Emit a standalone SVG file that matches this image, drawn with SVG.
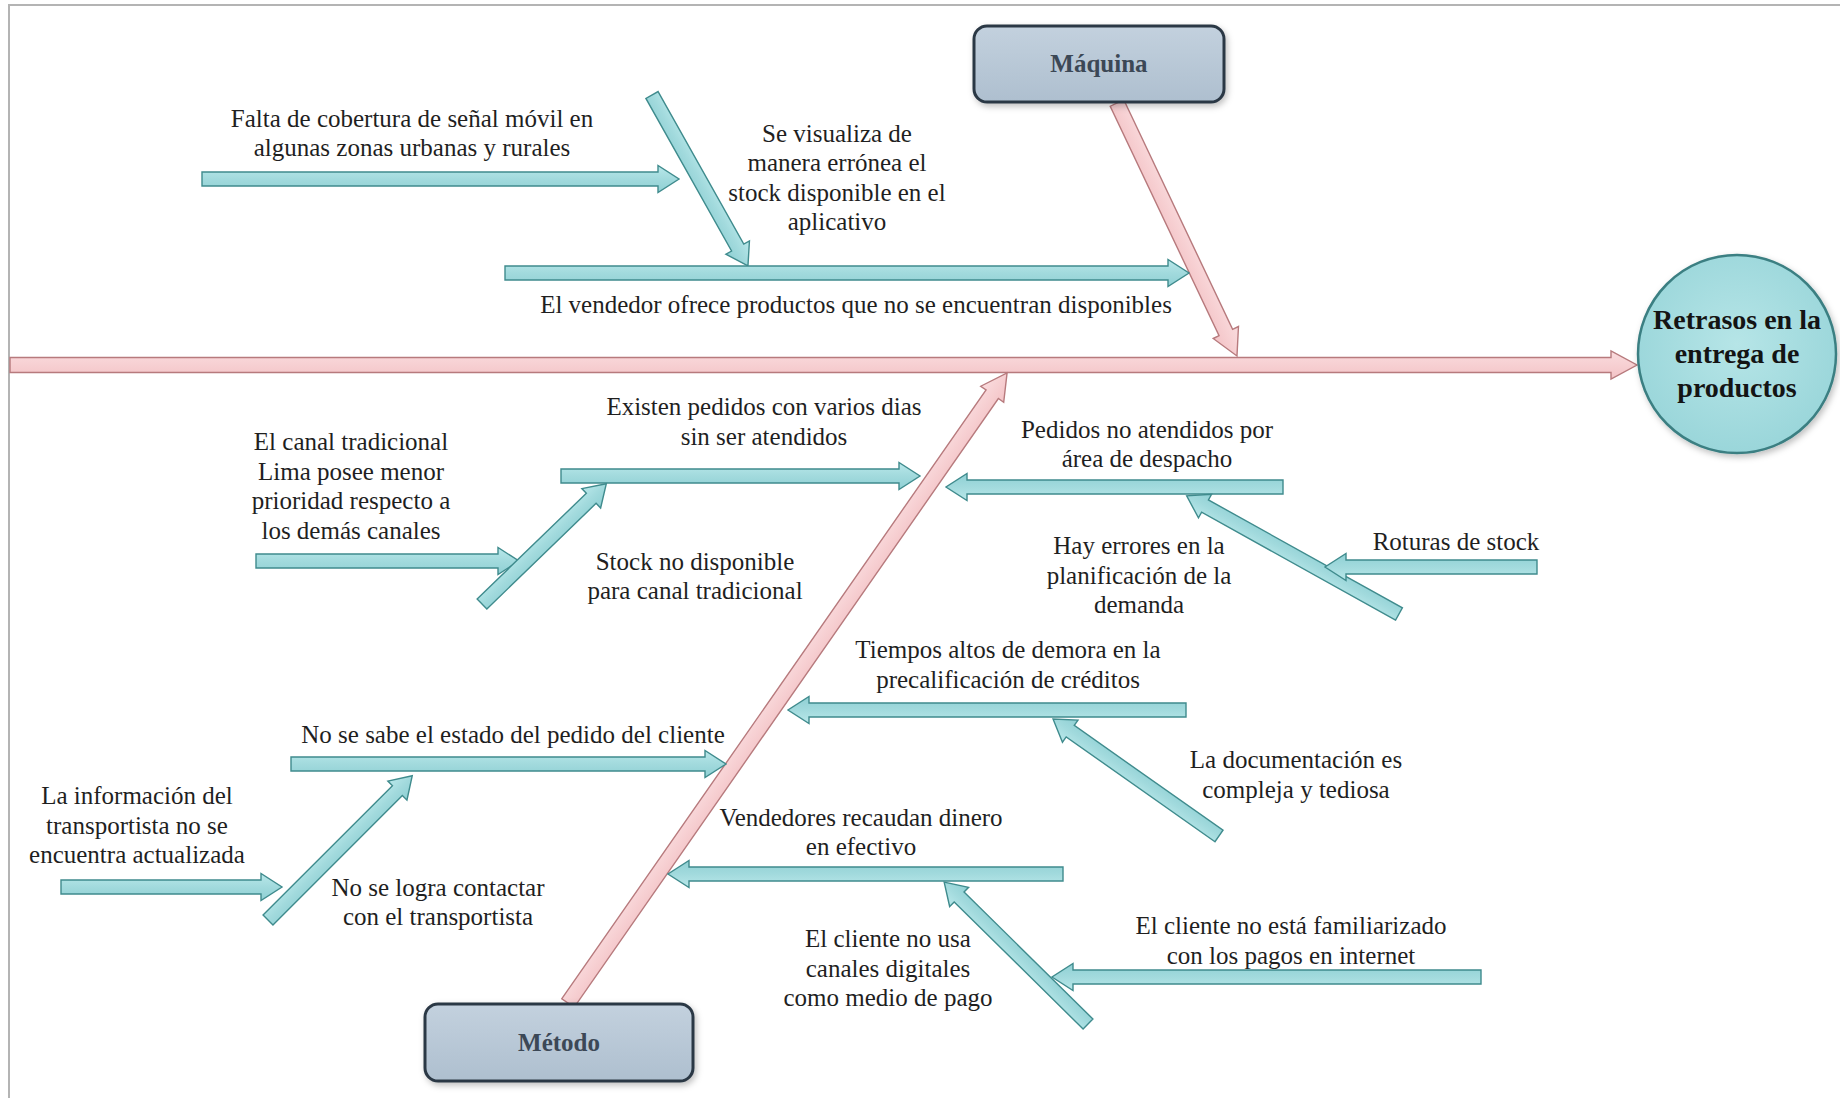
<svg xmlns="http://www.w3.org/2000/svg" width="1840" height="1098" viewBox="0 0 1840 1098">
  <defs>
    <linearGradient id="gBlue" x1="0" y1="0" x2="0" y2="1">
      <stop offset="0" stop-color="#b9e8ea"/>
      <stop offset="0.5" stop-color="#a2dadd"/>
      <stop offset="1" stop-color="#8fd0d4"/>
    </linearGradient>
    <linearGradient id="gPink" x1="0" y1="0" x2="0" y2="1">
      <stop offset="0" stop-color="#fadcde"/>
      <stop offset="1" stop-color="#f3c3c6"/>
    </linearGradient>
    <linearGradient id="gBox" x1="0" y1="0" x2="0" y2="1">
      <stop offset="0" stop-color="#c3d1de"/>
      <stop offset="1" stop-color="#aebfcf"/>
    </linearGradient>
    <radialGradient id="gHead" cx="0.5" cy="0.45" r="0.55">
      <stop offset="0" stop-color="#b6e5e7"/>
      <stop offset="1" stop-color="#9ad6da"/>
    </radialGradient>
    <filter id="shadow" x="-20%" y="-20%" width="140%" height="150%">
      <feDropShadow dx="2" dy="3" stdDeviation="3" flood-color="#000" flood-opacity="0.25"/>
    </filter>
  </defs>
  <style>
    .frame { stroke: #b4b4b4; stroke-width: 2; fill: none; }
    .blue { fill: url(#gBlue); stroke: #3f8b8d; stroke-width: 1.4; stroke-linejoin: miter; }
    .pink { fill: url(#gPink); stroke: #b77a7d; stroke-width: 1.4; stroke-linejoin: miter; }
    .box { fill: url(#gBox); stroke: #2c3845; stroke-width: 3; filter: url(#shadow); }
    .boxlabel { font-family: "Liberation Serif", "Times New Roman", serif; font-size: 25px; font-weight: bold; fill: #3c4856; text-anchor: middle; }
    .head { fill: url(#gHead); stroke: #3b7f82; stroke-width: 2.5; filter: url(#shadow); }
    .headlabel { font-family: "Liberation Serif", "Times New Roman", serif; font-size: 28px; font-weight: bold; fill: #141414; text-anchor: middle; }
    .cause { font-family: "Liberation Serif", "Times New Roman", serif; font-size: 25px; fill: #1f1f1f; text-anchor: middle; }
  </style>

  <!-- page frame -->
  <path class="frame" d="M9,1098 V5 H1840"/>

  <!-- connectors: spine, main bones and cause arrows -->
  <g id="connectors">
    <!-- spine -->
    <path class="pink" transform="translate(10,365)" d="M0,-7.5 H1601 V-14 L1627,0 L1601,14 V7.5 H0 Z"/>
    <!-- Máquina bone -->
    <path class="pink" transform="translate(1117,103) rotate(64.63)" d="M0,-7.5 H254 V-14 L280,0 L254,14 V7.5 H0 Z"/>
    <!-- Método bone -->
    <path class="pink" transform="translate(568,1003) rotate(-55.13)" d="M0,-7.5 H742 V-14 L768,0 L742,14 V7.5 H0 Z"/>

    <!-- upper causes -->
    <path class="blue" transform="translate(202,179)" d="M0,-7 H456 V-13.5 L477,0 L456,13.5 V7 H0 Z"/>
    <path class="blue" transform="translate(652,95) rotate(60.69)" d="M0,-7 H175 V-13.5 L196,0 L175,13.5 V7 H0 Z"/>
    <path class="blue" transform="translate(505,273)" d="M0,-7 H663 V-13.5 L684,0 L663,13.5 V7 H0 Z"/>

    <!-- lower left causes -->
    <path class="blue" transform="translate(561,476)" d="M0,-7 H338 V-13.5 L359,0 L338,13.5 V7 H0 Z"/>
    <path class="blue" transform="translate(256,561)" d="M0,-7 H242 V-13.5 L263,0 L242,13.5 V7 H0 Z"/>
    <path class="blue" transform="translate(482,604) rotate(-44.06)" d="M0,-7 H152 V-13.5 L173,0 L152,13.5 V7 H0 Z"/>
    <path class="blue" transform="translate(291,764)" d="M0,-7 H414 V-13.5 L435,0 L414,13.5 V7 H0 Z"/>
    <path class="blue" transform="translate(61,887)" d="M0,-7 H200 V-13.5 L221,0 L200,13.5 V7 H0 Z"/>
    <path class="blue" transform="translate(268,920) rotate(-45)" d="M0,-7 H183 V-13.5 L204,0 L183,13.5 V7 H0 Z"/>

    <!-- lower right causes -->
    <path class="blue" transform="translate(1283,487) rotate(180)" d="M0,-7 H316 V-13.5 L337,0 L316,13.5 V7 H0 Z"/>
    <path class="blue" transform="translate(1399,614) rotate(-150.9)" d="M0,-7 H222 V-13.5 L243,0 L222,13.5 V7 H0 Z"/>
    <path class="blue" transform="translate(1537,567) rotate(180)" d="M0,-7 H191 V-13.5 L212,0 L191,13.5 V7 H0 Z"/>
    <path class="blue" transform="translate(1186,710) rotate(180)" d="M0,-7 H377 V-13.5 L398,0 L377,13.5 V7 H0 Z"/>
    <path class="blue" transform="translate(1219,836) rotate(-144.83)" d="M0,-7 H182 V-13.5 L203,0 L182,13.5 V7 H0 Z"/>
    <path class="blue" transform="translate(1063,874) rotate(180)" d="M0,-7 H374 V-13.5 L395,0 L374,13.5 V7 H0 Z"/>
    <path class="blue" transform="translate(1088,1024) rotate(-135.4)" d="M0,-7 H181 V-13.5 L202,0 L181,13.5 V7 H0 Z"/>
    <path class="blue" transform="translate(1481,977) rotate(180)" d="M0,-7 H408 V-13.5 L429,0 L408,13.5 V7 H0 Z"/>
  </g>

  <!-- category boxes -->
  <g id="maquina">
    <rect class="box" x="974" y="26" width="250" height="76" rx="13"/>
    <text class="boxlabel" x="1099" y="72">Máquina</text>
  </g>
  <g id="metodo">
    <rect class="box" x="425" y="1004" width="268" height="77" rx="13"/>
    <text class="boxlabel" x="559" y="1051">Método</text>
  </g>

  <!-- effect -->
  <g id="efecto">
    <circle class="head" cx="1737" cy="354" r="99"/>
    <text class="headlabel" x="1737" y="329">Retrasos en la</text>
    <text class="headlabel" x="1737" y="363">entrega de</text>
    <text class="headlabel" x="1737" y="397">productos</text>
  </g>

  <!-- cause labels -->
  <g id="c-cobertura">
    <text class="cause" x="412" y="127">Falta de cobertura de señal móvil en</text>
    <text class="cause" x="412" y="156">algunas zonas urbanas y rurales</text>
  </g>
  <g id="c-visualiza">
    <text class="cause" x="837" y="142">Se visualiza de</text>
    <text class="cause" x="837" y="171">manera errónea el</text>
    <text class="cause" x="837" y="201">stock disponible en el</text>
    <text class="cause" x="837" y="230">aplicativo</text>
  </g>
  <g id="c-vendedor">
    <text class="cause" x="856" y="313">El vendedor ofrece productos que no se encuentran disponibles</text>
  </g>
  <g id="c-existen">
    <text class="cause" x="764" y="415">Existen pedidos con varios dias</text>
    <text class="cause" x="764" y="445">sin ser atendidos</text>
  </g>
  <g id="c-canal">
    <text class="cause" x="351" y="450">El canal tradicional</text>
    <text class="cause" x="351" y="480">Lima posee menor</text>
    <text class="cause" x="351" y="509">prioridad respecto a</text>
    <text class="cause" x="351" y="539">los demás canales</text>
  </g>
  <g id="c-stock">
    <text class="cause" x="695" y="570">Stock no disponible</text>
    <text class="cause" x="695" y="599">para canal tradicional</text>
  </g>
  <g id="c-pedidos">
    <text class="cause" x="1147" y="438">Pedidos no atendidos por</text>
    <text class="cause" x="1147" y="467">área de despacho</text>
  </g>
  <g id="c-planificacion">
    <text class="cause" x="1139" y="554">Hay errores en la</text>
    <text class="cause" x="1139" y="584">planificación de la</text>
    <text class="cause" x="1139" y="613">demanda</text>
  </g>
  <g id="c-roturas">
    <text class="cause" x="1456" y="550">Roturas de stock</text>
  </g>
  <g id="c-tiempos">
    <text class="cause" x="1008" y="658">Tiempos altos de demora en la</text>
    <text class="cause" x="1008" y="688">precalificación de créditos</text>
  </g>
  <g id="c-documentacion">
    <text class="cause" x="1296" y="768">La documentación es</text>
    <text class="cause" x="1296" y="798">compleja y tediosa</text>
  </g>
  <g id="c-estado">
    <text class="cause" x="513" y="743">No se sabe el estado del pedido del cliente</text>
  </g>
  <g id="c-informacion">
    <text class="cause" x="137" y="804">La información del</text>
    <text class="cause" x="137" y="834">transportista no se</text>
    <text class="cause" x="137" y="863">encuentra actualizada</text>
  </g>
  <g id="c-contactar">
    <text class="cause" x="438" y="896">No se logra contactar</text>
    <text class="cause" x="438" y="925">con el transportista</text>
  </g>
  <g id="c-efectivo">
    <text class="cause" x="861" y="826">Vendedores recaudan dinero</text>
    <text class="cause" x="861" y="855">en efectivo</text>
  </g>
  <g id="c-internet">
    <text class="cause" x="1291" y="934">El cliente no está familiarizado</text>
    <text class="cause" x="1291" y="964">con los pagos en internet</text>
  </g>
  <g id="c-digitales">
    <text class="cause" x="888" y="947">El cliente no usa</text>
    <text class="cause" x="888" y="977">canales digitales</text>
    <text class="cause" x="888" y="1006">como medio de pago</text>
  </g>
</svg>
